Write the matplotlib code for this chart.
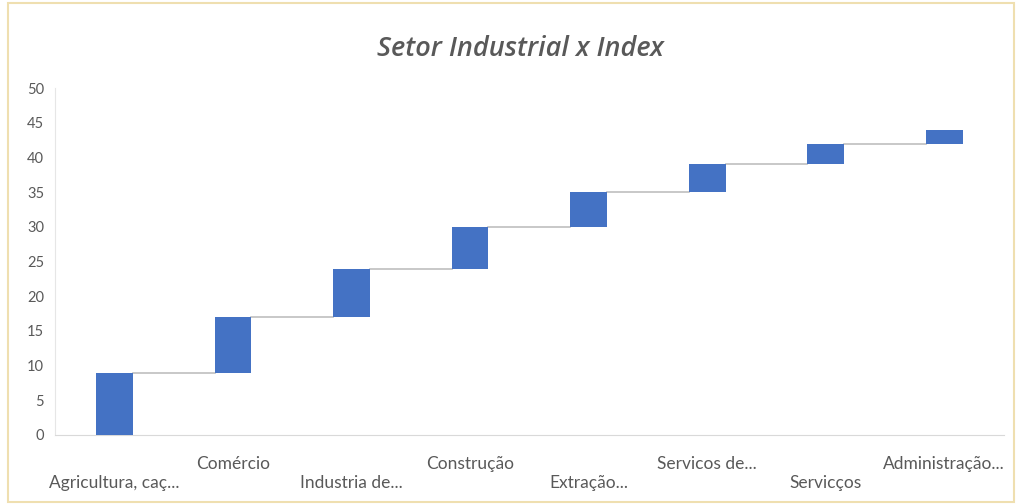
import matplotlib.pyplot as plt
from matplotlib.patches import Rectangle

sectors = ["Agricultura, caç...", "Comércio", "Industria de...", "Construção",
           "Extração...", "Servicos de...", "Servicços", "Administração..."]
steps = [9, 8, 7, 6, 5, 4, 3, 2]

# running totals for the waterfall
bottoms = []
tops = []
total = 0
for s in steps:
    bottoms.append(total)
    total += s
    tops.append(total)

fig = plt.figure(figsize=(10.22, 5.04), dpi=100)
fig.patches.append(Rectangle((0.008, 0.004), 0.984, 0.99, transform=fig.transFigure,
                             fill=False, edgecolor="#EFDFB0", linewidth=1.5))
ax = fig.add_axes([0.054, 0.137, 0.928, 0.688])

x = list(range(len(sectors)))
ax.bar(x, steps, bottom=bottoms, width=0.31, color="#4472C4", zorder=3)

# connectors between consecutive bars
for i in range(len(steps) - 1):
    ax.plot([i + 0.155, i + 1 - 0.155], [tops[i], tops[i]], color="#BFBFBF", lw=1.2, zorder=2)

ax.set_xlim(-0.5, len(sectors) - 0.5)
ax.set_ylim(0, 50)
ax.set_yticks(range(0, 51, 5))
ax.set_xticks(x)
labels = [("\n" + s) if i % 2 == 0 else s for i, s in enumerate(sectors)]
ax.set_xticklabels(labels, fontsize=12.5, color="#595959", family="Lato", linespacing=1.28)
for t in ax.get_yticklabels():
    t.set_fontsize(10.5)
    t.set_color("#595959")
    t.set_family("Lato")
ax.tick_params(axis="both", length=0, pad=8)
ax.tick_params(axis="x", pad=15)

for side in ["top", "right"]:
    ax.spines[side].set_visible(False)
ax.spines["left"].set_color("#E6E6E6")
ax.spines["bottom"].set_color("#D9D9D9")

fig.text(0.509, 0.903, "Setor Industrial x Index", ha="center", va="center",
         fontsize=19.5, fontstyle="italic", fontweight="semibold", color="#595959", family="Open Sans")

fig.savefig("out.png", dpi=100)
